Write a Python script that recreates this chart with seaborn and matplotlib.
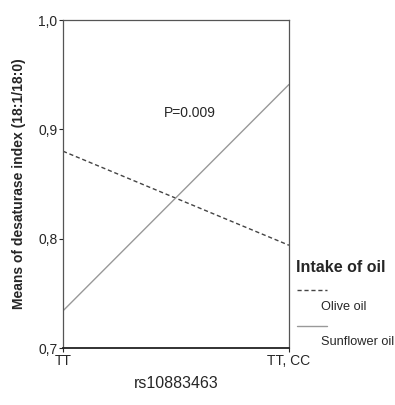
import matplotlib
matplotlib.use("Agg")
import matplotlib.pyplot as plt
from matplotlib.lines import Line2D
from matplotlib.ticker import FuncFormatter
import seaborn as sns
import pandas as pd

genotypes = ["TT", "TT, CC"]
olive_oil = [0.880, 0.794]
sunflower_oil = [0.734, 0.941]
oil_names = ["Olive oil", "Sunflower oil"]

df = pd.DataFrame({
    "genotype": [0, 1, 0, 1],
    "value": olive_oil + sunflower_oil,
    "oil": [oil_names[0]] * 2 + [oil_names[1]] * 2,
})

sns.set_style("white")
plt.rcParams['font.family'] = ['Liberation Sans', 'DejaVu Sans']

fig = plt.figure(figsize=(3.95, 4.05), dpi=100)
ax = fig.add_axes([0.1595, 0.1407, 0.572, 0.8099])

sns.lineplot(data=df, x="genotype", y="value", hue="oil", style="oil",
             palette={"Olive oil": "#444444", "Sunflower oil": "#999999"},
             dashes={"Olive oil": (3, 2), "Sunflower oil": ""},
             linewidth=1, legend=False, ax=ax)

ax.set_xlim(0, 1)
ax.set_ylim(0.7, 1.0)
ax.set_xticks([0, 1])
ax.set_xticklabels(genotypes, fontsize=10)
ax.set_yticks([0.7, 0.8, 0.9, 1.0])
ax.yaxis.set_major_formatter(FuncFormatter(lambda v, p: f"{v:.1f}".replace(".", ",")))
ax.tick_params(axis="y", labelsize=10, length=3, width=0.8, direction="out", left=True, pad=1)
ax.tick_params(axis="x", length=3, width=0.8, direction="out", bottom=True, pad=1)

for side in ["left", "right", "top"]:
    ax.spines[side].set_color("#555555")
    ax.spines[side].set_linewidth(0.9)
ax.spines["bottom"].set_color("#222222")
ax.spines["bottom"].set_linewidth(1.3)

ax.set_xlabel("rs10883463", fontsize=11.5, labelpad=6)
ax.set_ylabel("Means of desaturase index (18:1/18:0)", fontsize=10, fontweight="bold", labelpad=9)

ax.text(0.56, 0.915, "P=0.009", fontsize=10, ha="center", va="center")

# legend drawn in figure coords
fig.text(296 / 395, 1 - 268 / 405, "Intake of oil", fontsize=11.5, fontweight="bold", va="center")
fig.add_artist(Line2D([297 / 395, 327 / 395], [1 - 290 / 405] * 2, color="#444444",
                      linestyle=(0, (3, 2)), linewidth=1))
fig.text(321 / 395, 1 - 307 / 405, oil_names[0], fontsize=9.2, va="center")
fig.add_artist(Line2D([297 / 395, 327 / 395], [1 - 326 / 405] * 2, color="#999999", linewidth=1))
fig.text(321 / 395, 1 - 342 / 405, oil_names[1], fontsize=9.2, va="center")

fig.savefig("out.png", dpi=100)
